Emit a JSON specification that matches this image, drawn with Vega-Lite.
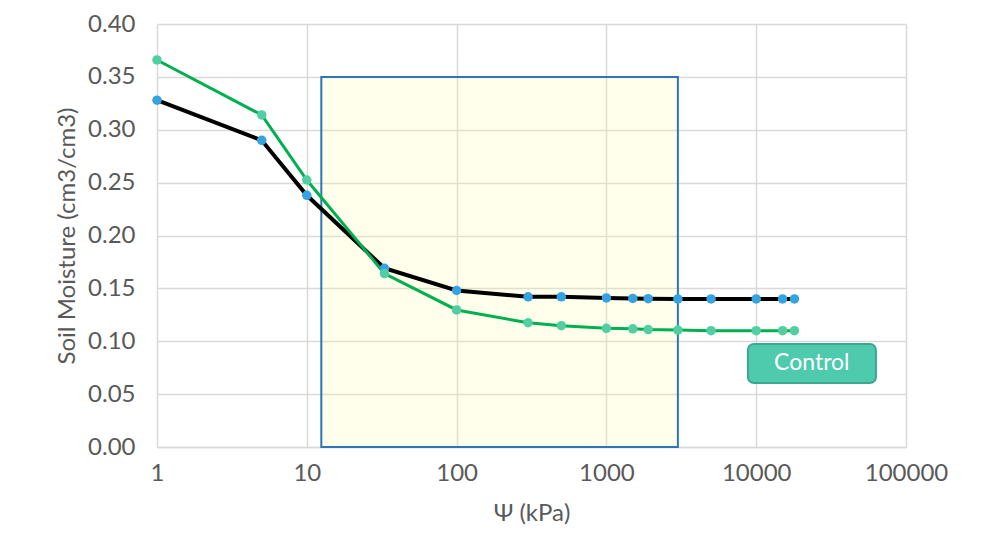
{
  "$schema": "https://vega.github.io/schema/vega-lite/v6.json",
  "autosize": "none",
  "width": 749,
  "height": 423,
  "padding": {"left": 157, "top": 24, "right": 94, "bottom": 104},
  "background": "white",
  "config": {
    "view": {"stroke": null},
    "font": "Lato",
    "axis": {
      "labelFont": "Lato",
      "titleFont": "Lato",
      "labelColor": "#595959",
      "titleColor": "#595959",
      "gridColor": "#D9D9D9",
      "gridWidth": 1.5,
      "ticks": false
    }
  },
  "datasets": {
    "curves": [
      {"psi": 1, "moisture": 0.328, "series": "Treatment"},
      {"psi": 5, "moisture": 0.290, "series": "Treatment"},
      {"psi": 10, "moisture": 0.238, "series": "Treatment"},
      {"psi": 33, "moisture": 0.169, "series": "Treatment"},
      {"psi": 100, "moisture": 0.148, "series": "Treatment"},
      {"psi": 300, "moisture": 0.142, "series": "Treatment"},
      {"psi": 500, "moisture": 0.142, "series": "Treatment"},
      {"psi": 1000, "moisture": 0.141, "series": "Treatment"},
      {"psi": 1500, "moisture": 0.1405, "series": "Treatment"},
      {"psi": 1900, "moisture": 0.1403, "series": "Treatment"},
      {"psi": 3000, "moisture": 0.140, "series": "Treatment"},
      {"psi": 5000, "moisture": 0.140, "series": "Treatment"},
      {"psi": 10000, "moisture": 0.140, "series": "Treatment"},
      {"psi": 15000, "moisture": 0.140, "series": "Treatment"},
      {"psi": 18000, "moisture": 0.140, "series": "Treatment"},
      {"psi": 1, "moisture": 0.366, "series": "Control"},
      {"psi": 5, "moisture": 0.314, "series": "Control"},
      {"psi": 10, "moisture": 0.2525, "series": "Control"},
      {"psi": 33, "moisture": 0.164, "series": "Control"},
      {"psi": 100, "moisture": 0.1296, "series": "Control"},
      {"psi": 300, "moisture": 0.1175, "series": "Control"},
      {"psi": 500, "moisture": 0.1147, "series": "Control"},
      {"psi": 1000, "moisture": 0.1122, "series": "Control"},
      {"psi": 1500, "moisture": 0.1118, "series": "Control"},
      {"psi": 1900, "moisture": 0.111, "series": "Control"},
      {"psi": 3000, "moisture": 0.1106, "series": "Control"},
      {"psi": 5000, "moisture": 0.110, "series": "Control"},
      {"psi": 10000, "moisture": 0.110, "series": "Control"},
      {"psi": 15000, "moisture": 0.110, "series": "Control"},
      {"psi": 18000, "moisture": 0.110, "series": "Control"}
    ],
    "box": [{"x1": 12.5, "x2": 3000, "y1": 0, "y2": 0.35}],
    "tag": [{"x1": 8800, "x2": 63000, "y1": 0.0605, "y2": 0.0974, "xc": 23500, "yc": 0.079, "label": "Control"}]
  },
  "layer": [
    {
      "data": {"name": "box"},
      "mark": {"type": "rect", "fill": "#FFFF99", "fillOpacity": 0.2, "stroke": "#2E75B6", "strokeWidth": 2},
      "encoding": {
        "x": {"field": "x1", "type": "quantitative", "scale": {"type": "log", "domain": [1, 100000], "nice": false},
          "axis": {"values": [1, 10, 100, 1000, 10000, 100000], "format": "d", "labelFontSize": 24, "labelPadding": 14, "labelFlush": false,
            "title": "Ψ (kPa)", "titleFontSize": 24, "titleFontWeight": "normal", "titlePadding": 16, "domainColor": "#D9D9D9", "domainWidth": 1.5}},
        "x2": {"field": "x2"},
        "y": {"field": "y1", "type": "quantitative", "scale": {"domain": [0, 0.4], "nice": false},
          "axis": {"values": [0, 0.05, 0.1, 0.15, 0.2, 0.25, 0.3, 0.35, 0.4], "format": ".2f", "labelFontSize": 24, "labelPadding": 22,
            "title": "Soil Moisture (cm3/cm3)", "titleFontSize": 24, "titleFontWeight": "normal", "titlePadding": 8, "domain": false}},
        "y2": {"field": "y2"}
      }
    },
    {
      "data": {"name": "curves"},
      "transform": [{"filter": "datum.series === 'Treatment'"}],
      "mark": {"type": "line", "color": "#000000", "strokeWidth": 4},
      "encoding": {
        "x": {"field": "psi", "type": "quantitative"},
        "y": {"field": "moisture", "type": "quantitative"}
      }
    },
    {
      "data": {"name": "curves"},
      "transform": [{"filter": "datum.series === 'Control'"}],
      "mark": {"type": "line", "color": "#00B050", "strokeWidth": 3},
      "encoding": {
        "x": {"field": "psi", "type": "quantitative"},
        "y": {"field": "moisture", "type": "quantitative"}
      }
    },
    {
      "data": {"name": "curves"},
      "transform": [{"filter": "datum.series === 'Treatment'"}],
      "mark": {"type": "point", "filled": true, "opacity": 1, "color": "#35A3E2", "size": 90},
      "encoding": {
        "x": {"field": "psi", "type": "quantitative"},
        "y": {"field": "moisture", "type": "quantitative"}
      }
    },
    {
      "data": {"name": "curves"},
      "transform": [{"filter": "datum.series === 'Control'"}],
      "mark": {"type": "point", "filled": true, "opacity": 1, "color": "#52CFA2", "size": 90},
      "encoding": {
        "x": {"field": "psi", "type": "quantitative"},
        "y": {"field": "moisture", "type": "quantitative"}
      }
    },
    {
      "data": {"name": "tag"},
      "mark": {"type": "rect", "fill": "#4ECAAD", "stroke": "#3BA88F", "strokeWidth": 2, "cornerRadius": 6},
      "encoding": {
        "x": {"field": "x1", "type": "quantitative"},
        "x2": {"field": "x2"},
        "y": {"field": "y1", "type": "quantitative"},
        "y2": {"field": "y2"}
      }
    },
    {
      "data": {"name": "tag"},
      "mark": {"type": "text", "color": "white", "fontSize": 23, "font": "Lato", "align": "center", "baseline": "middle"},
      "encoding": {
        "x": {"field": "xc", "type": "quantitative"},
        "y": {"field": "yc", "type": "quantitative"},
        "text": {"field": "label"}
      }
    }
  ]
}
